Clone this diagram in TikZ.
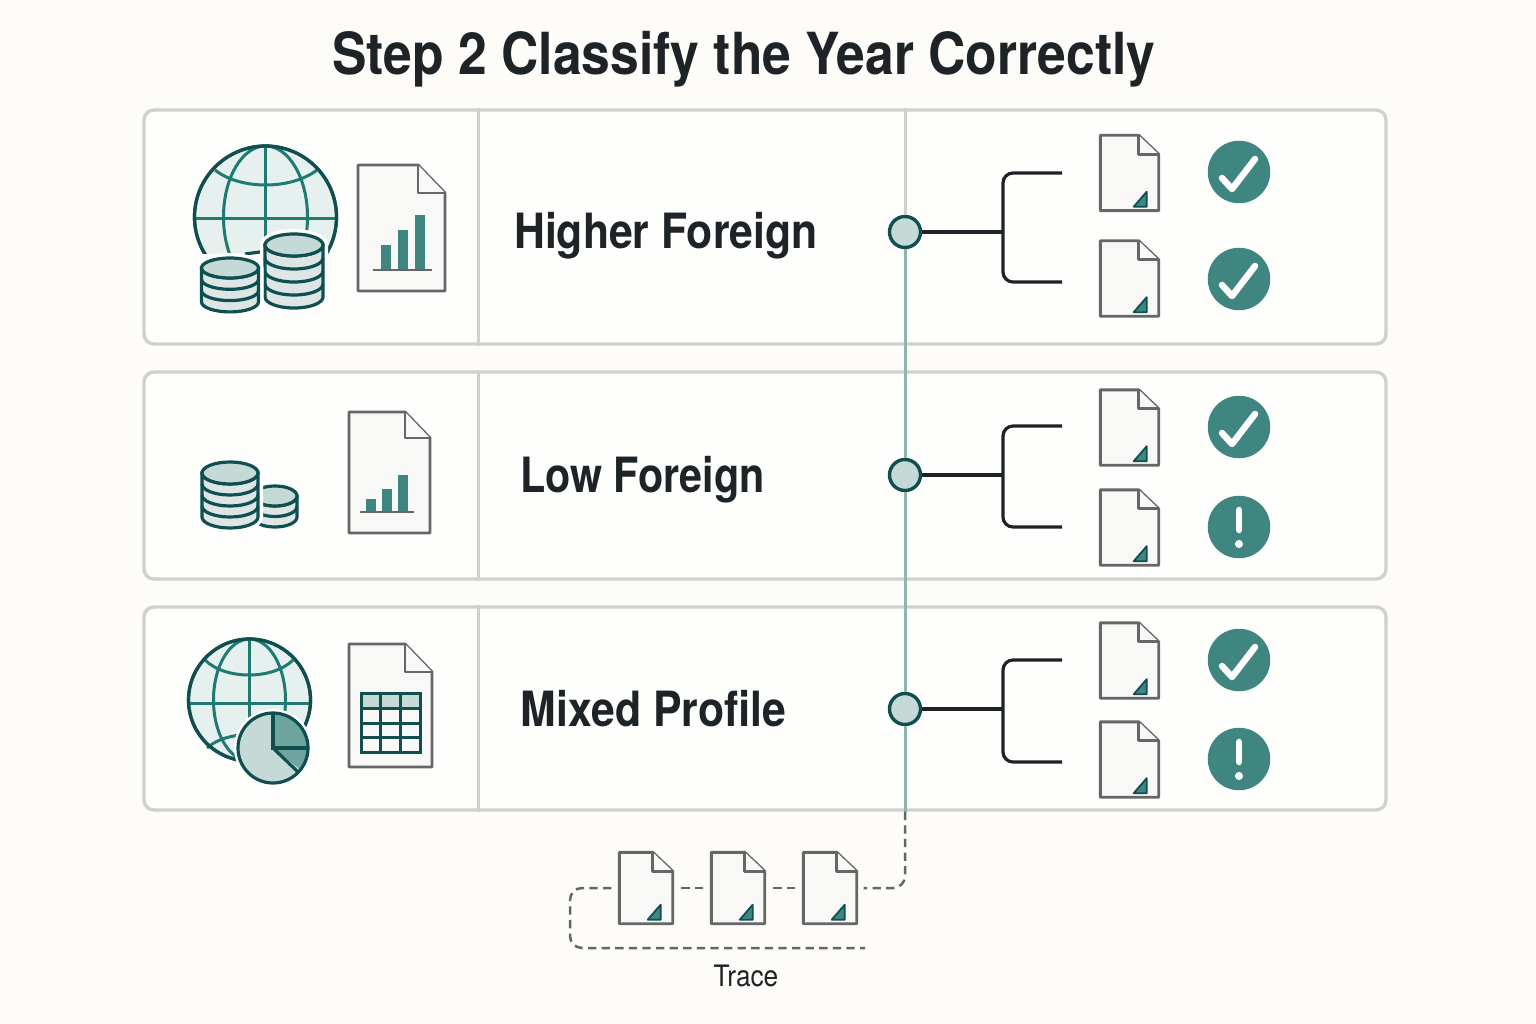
\documentclass[tikz,border=0pt]{standalone}
\usepackage{fontspec}
\setmainfont{TeX Gyre Heros}
\newfontfamily\titlefont[FakeStretch=0.89]{TeX Gyre Heros}
\newfontfamily\labelfont[FakeStretch=0.88]{TeX Gyre Heros}
\newfontfamily\lowfont[FakeStretch=0.85]{TeX Gyre Heros}
\newfontfamily\tracefont[FakeStretch=0.89]{TeX Gyre Heros}
\definecolor{pagebg}{HTML}{FDFCF8}
\definecolor{panelbg}{HTML}{FEFEFC}
\definecolor{panelline}{HTML}{D0D0CC}
\definecolor{inkdark}{HTML}{1D2326}
\definecolor{tealdark}{HTML}{0F4F4F}
\definecolor{tealgrid}{HTML}{1F7A72}
\definecolor{tealfill}{HTML}{3E867F}
\definecolor{tealmid}{HTML}{6EA59F}
\definecolor{teallight}{HTML}{C5D9D6}
\definecolor{tealpale}{HTML}{E6F0EE}
\definecolor{coinbody}{HTML}{DDE6E4}
\definecolor{docline}{HTML}{666666}
\definecolor{docfill}{HTML}{F8F8F6}
\definecolor{railcol}{HTML}{8FB5B3}

% cx, top y, rx, ry, layer height, layers
\newcommand{\coinstack}[6]{%
  \path[draw=white,line width=10pt,line join=round] (#1-#3,#2) -- (#1-#3,#2+#6*#5)
    arc[start angle=180,end angle=0,x radius=#3,y radius=#4] -- (#1+#3,#2)
    arc[start angle=0,end angle=-180,x radius=#3,y radius=#4] -- cycle;
  \draw[iconline,fill=coinbody] (#1-#3,#2) -- (#1-#3,#2+#6*#5)
    arc[start angle=180,end angle=0,x radius=#3,y radius=#4] -- (#1+#3,#2) -- cycle;
  \foreach \k in {1,...,#6}
    \draw[iconline] (#1-#3,#2+\k*#5-#5) arc[start angle=180,end angle=0,x radius=#3,y radius=#4];
  \draw[iconline,fill=teallight] (#1,#2) ellipse[x radius=#3,y radius=#4];
}
% x0, y0, x1, y1, fold x, fold y
\newcommand{\bigdoc}[6]{%
  \draw[docstroke] (#1,#2) -- (#5,#2) -- (#3,#6) -- (#3,#4) -- (#1,#4) -- cycle;
  \draw[docstroke] (#5,#2) -- (#5,#6) -- (#3,#6);
}
% name, x, y, style
\newcommand{\smalldoc}[4]{%
  \node[#4] (#1) at (#2,#3) {};
  \draw[docstroke] (#1.north west) -- ([xshift=-20pt]#1.north east) -- ([yshift=-19pt]#1.north east)
    -- (#1.south east) -- (#1.south west) -- cycle;
  \draw[docstroke] ([xshift=-20pt]#1.north east) -- ([xshift=-20pt,yshift=-19pt]#1.north east)
    -- ([yshift=-19pt]#1.north east);
  \draw[fill=tealfill,draw=tealdark,line width=1.8pt,line join=round]
    ([xshift=-12pt,yshift=19pt]#1.south east) -- ([xshift=-25pt,yshift=4pt]#1.south east)
    -- ([xshift=-12pt,yshift=4pt]#1.south east) -- cycle;
}

\begin{document}
\begin{tikzpicture}[x=1pt,y=-1pt,
    panel/.style={draw=panelline,fill=panelbg,line width=3.4pt,rounded corners=10pt,minimum width=1242pt,inner sep=0pt},
    divider/.style={draw=panelline,line width=3pt},
    rail/.style={draw=railcol,line width=3pt},
    hub/.style={circle,draw=tealdark,fill=teallight,line width=3.4pt,minimum size=31pt,inner sep=0pt},
    branch/.style={draw=inkdark,line width=3.2pt,rounded corners=10pt},
    rowlabel/.style={font=\labelfont\fontsize{48.6}{50}\selectfont\bfseries,text=inkdark,inner sep=0pt,anchor=base},
    iconline/.style={draw=tealdark,line width=3.2pt},
    gridline/.style={draw=tealgrid,line width=3pt},
    docstroke/.style={draw=docline,fill=docfill,line width=2.9pt,line join=round},
    docbox/.style={minimum width=58pt,minimum height=75pt,inner sep=0pt},
    tracebox/.style={minimum width=53pt,minimum height=71pt,inner sep=0pt},
    badge/.style={circle,fill=tealfill,minimum size=62.5pt,inner sep=0pt},
    marker/.style={draw=white,line width=6.5pt,line cap=round,line join=round},
    tracedash/.style={draw=docline,line width=2.5pt,dash pattern=on 8.3pt off 5.3pt,rounded corners=12pt}]
  \useasboundingbox (0,0) rectangle (1536,1024);
  \fill[pagebg] (0,0) rectangle (1536,1024);

  \node[font=\titlefont\fontsize{58}{60}\selectfont\bfseries,text=inkdark,inner sep=0pt,anchor=base] (title) at (744,75) {Step 2 Classify the Year Correctly};

  % panels
  \node[panel,minimum height=234pt] (p1) at (765,227) {};
  \node[panel,minimum height=207pt] (p2) at (765,475.5) {};
  \node[panel,minimum height=203pt] (p3) at (765,708.5) {};
  \foreach \p in {p1,p2,p3}
    \draw[divider] (\p.north -| 478,0) -- (\p.south -| 478,0);

  \node[rowlabel] (l1) at (666,249) {Higher Foreign};
  \node[rowlabel,font=\lowfont\fontsize{48.6}{50}\selectfont\bfseries] (l2) at (642.5,492) {Low Foreign};
  \node[rowlabel] (l3) at (653.5,726) {Mixed Profile};

  % rail and hubs
  \node[hub] (n1) at (905,232) {};
  \node[hub] (n2) at (905,475) {};
  \node[hub] (n3) at (905,709) {};
  \draw[divider] (p1.north -| n1) -- (n1.north);
  \draw[rail] (n1) -- (n2);
  \draw[rail] (n2) -- (n3);
  \draw[rail] (n3) -- (p3.south -| n3);

  % branches
  \foreach \n/\top/\bot in {n1/173/282,n2/426/527,n3/660/762} {
    \coordinate (\n a) at (1062,\top);
    \coordinate (\n b) at (1062,\bot);
    \draw[branch] (\n.east) -- (\n.east -| 1003,0);
    \draw[branch] (\n a) -- (1003,\top) -- (1003,\bot) -- (\n b);
  }

  % documents on the right
  \foreach \d/\y in {da/173,db/278.5,dc/427.5,dd/527.5,de/660.5,df/759.5}
    \smalldoc{\d}{1129.5}{\y}{docbox};

  % badges
  \foreach \b/\y in {ba/172,bb/279,bc/427,be/660} {
    \node[badge] (\b) at (1239,\y) {};
    \draw[marker] ([xshift=-17pt,yshift=-6pt]\b.center) -- ([xshift=-7pt,yshift=-17pt]\b.center) -- ([xshift=16pt,yshift=13pt]\b.center);
  }
  \foreach \b/\y in {bd/527,bf/759} {
    \node[badge] (\b) at (1239,\y) {};
    \draw[marker] ([yshift=17pt]\b.center) -- ([yshift=-3pt]\b.center);
    \fill[white] ([yshift=-17pt]\b.center) circle[radius=4];
  }

  % row 1 icons
  \begin{scope}
    \clip (180,130) rectangle (350,254);
    \draw[iconline,fill=tealpale] (265.5,217) circle[radius=71];
    \draw[gridline] (265.5,146) -- (265.5,254);
    \draw[gridline] (194,219) -- (337,219);
    \draw[gridline] (265.5,217) ellipse[x radius=42,y radius=71];
    \draw[gridline] (215,170) .. controls (240,190) and (291,190) .. (317,170);
    \draw[iconline] (265.5,217) circle[radius=71];
  \end{scope}
  \draw[iconline] (245,254) -- (260,252);
  \coinstack{294}{245}{29}{11}{13}{4}
  \coinstack{230}{268}{28.5}{10}{11.3}{3}
  \bigdoc{358}{165}{445}{291}{418}{193}
  \fill[tealfill] (381,245) rectangle (391,270);
  \fill[tealfill] (398,230) rectangle (408,270);
  \fill[tealfill] (415,215) rectangle (425,270);
  \draw[draw=docline,line width=2.9pt] (373,270) -- (432,270);

  % row 2 icons
  \coinstack{275}{496}{22}{10}{10.5}{2}
  \coinstack{230}{473}{28}{11}{11}{4}
  \bigdoc{349}{412}{430}{533}{405}{438}
  \fill[tealfill] (366,499) rectangle (376,512);
  \fill[tealfill] (382,489) rectangle (392,512);
  \fill[tealfill] (398,475) rectangle (408,512);
  \draw[draw=docline,line width=2.9pt] (360,512) -- (414,512);

  % row 3 icons
  \draw[iconline,fill=tealpale] (249.5,700) circle[radius=61];
  \draw[gridline] (249.5,639) -- (249.5,761);
  \draw[gridline] (188,703) -- (311,703);
  \draw[gridline] (249.5,700) ellipse[x radius=36,y radius=61];
  \draw[gridline] (205,660) .. controls (225,680) and (273,680) .. (293,660);
  \draw[gridline] (207,748) .. controls (215,741) and (225,737) .. (240,735);
  \draw[iconline] (249.5,700) circle[radius=61];
  \fill[white] (273,748) circle[radius=39];
  \fill[teallight] (273,748) circle[radius=35];
  \begin{scope}
    \clip (273,748) -- (273,700) -- (320,700) -- (320,785) -- cycle;
    \fill[tealmid] (273,748) circle[radius=35];
  \end{scope}
  \draw[iconline] (273,713) -- (273,748) -- (308,748);
  \draw[iconline] (273,748) -- (298,772);
  \draw[iconline] (273,748) circle[radius=35];
  \bigdoc{349}{644}{432}{767}{405}{672}
  \fill[teallight] (361,693) rectangle (420,708);
  \draw[iconline,line width=3pt] (361,693) rectangle (420,752);
  \foreach \y in {708,723,737}
    \draw[iconline,line width=3pt] (361,\y) -- (420,\y);
  \foreach \x in {380,400}
    \draw[iconline,line width=3pt] (\x,693) -- (\x,752);

  % trace
  \smalldoc{ta}{646}{888}{tracebox}
  \smalldoc{tb}{738}{888}{tracebox}
  \smalldoc{tc}{830}{888}{tracebox}
  \coordinate (railend) at (p3.south -| n3);
  \coordinate (loopend) at (865,948);
  \draw[tracedash,shorten >=7pt] (railend) -- (905,888) -- (tc.east);
  \draw[tracedash,shorten <=8pt,shorten >=8pt] (tc.west) -- (tb.east);
  \draw[tracedash,shorten <=8pt,shorten >=8pt] (tb.west) -- (ta.east);
  \draw[tracedash,shorten <=8pt] (ta.west) -- (570,888) -- (570,948) -- (loopend);
  \node[font=\tracefont\fontsize{29.5}{30}\selectfont,text=inkdark,inner sep=0pt,anchor=base] (tracelabel) at (746,986) {Trace};
\end{tikzpicture}
\end{document}
